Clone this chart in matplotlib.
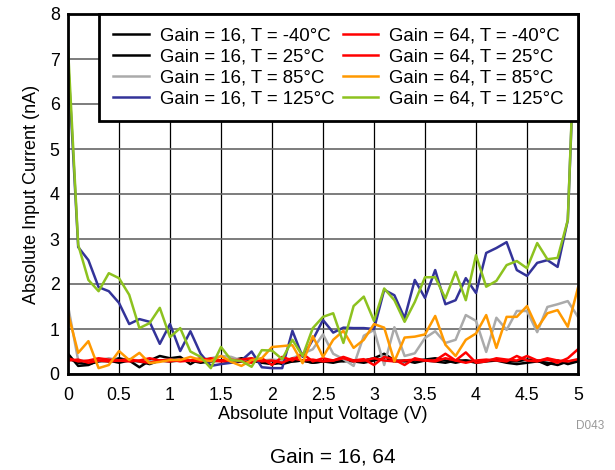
import matplotlib
matplotlib.use("Agg")
import matplotlib.pyplot as plt

plt.rcParams['font.family'] = ['Liberation Sans', 'DejaVu Sans']

voltage = [0.0, 0.1, 0.2, 0.3, 0.4, 0.5, 0.6, 0.7, 0.8, 0.9,
           1.0, 1.1, 1.2, 1.3, 1.4, 1.5, 1.6, 1.7, 1.8, 1.9,
           2.0, 2.1, 2.2, 2.3, 2.4, 2.5, 2.6, 2.7, 2.8, 2.9,
           3.0, 3.1, 3.2, 3.3, 3.4, 3.5, 3.6, 3.7, 3.8, 3.9,
           4.0, 4.1, 4.2, 4.3, 4.4, 4.5, 4.6, 4.7, 4.8, 4.9, 5.0]

g16_m40 = [0.45, 0.18, 0.2, 0.3, 0.28, 0.35, 0.3, 0.15, 0.3, 0.4,
           0.35, 0.38, 0.22, 0.35, 0.3, 0.3, 0.3, 0.35, 0.32, 0.3,
           0.3, 0.22, 0.28, 0.3, 0.25, 0.28, 0.3, 0.28, 0.3, 0.3,
           0.35, 0.45, 0.3, 0.28, 0.3, 0.32, 0.35, 0.3, 0.25, 0.3,
           0.28, 0.3, 0.32, 0.3, 0.28, 0.32, 0.3, 0.2, 0.3, 0.22, 0.28]
g16_25 = [0.35, 0.25, 0.22, 0.28, 0.3, 0.25, 0.3, 0.28, 0.22, 0.3,
          0.28, 0.3, 0.3, 0.25, 0.28, 0.3, 0.25, 0.28, 0.3, 0.25,
          0.22, 0.25, 0.28, 0.3, 0.25, 0.28, 0.25, 0.3, 0.28, 0.25,
          0.3, 0.35, 0.28, 0.3, 0.25, 0.3, 0.28, 0.25, 0.3, 0.3,
          0.25, 0.28, 0.3, 0.25, 0.22, 0.25, 0.28, 0.25, 0.2, 0.28, 0.3]
g16_85 = [1.52, 0.3, 0.28, 0.3, 0.35, 0.3, 0.32, 0.3, 0.28, 0.3,
          0.32, 0.3, 0.3, 0.33, 0.35, 0.4, 0.38, 0.3, 0.35, 0.3,
          0.32, 0.3, 0.35, 0.45, 0.55, 0.88, 0.45, 0.33, 0.18, 0.85,
          0.98, 0.2, 1.04, 0.4, 0.46, 0.8, 0.95, 0.69, 0.76, 1.31,
          1.18, 0.49, 1.25, 0.98, 1.4, 1.4, 0.93, 1.49, 1.55, 1.62, 1.27]
g16_125 = [7.0, 2.82, 2.53, 1.93, 1.84, 1.58, 1.11, 1.22, 1.16, 0.67,
           1.11, 0.51, 0.95, 0.45, 0.18, 0.22, 0.25, 0.3, 0.5, 0.15,
           0.13, 0.13, 0.96, 0.38, 0.76, 1.2, 0.92, 1.03, 1.02, 1.02,
           1.0, 1.87, 1.75, 1.24, 2.09, 1.69, 2.31, 1.55, 1.64, 2.13,
           1.8, 2.69, 2.8, 2.93, 2.31, 2.18, 2.47, 2.53, 2.38, 3.42, 9.3]
g64_m40 = [0.35, 0.28, 0.3, 0.35, 0.32, 0.3, 0.28, 0.3, 0.35, 0.3,
           0.28, 0.32, 0.3, 0.28, 0.35, 0.3, 0.32, 0.28, 0.25, 0.35,
           0.2, 0.38, 0.3, 0.45, 0.28, 0.35, 0.3, 0.38, 0.3, 0.33,
           0.2, 0.38, 0.32, 0.2, 0.35, 0.3, 0.3, 0.45, 0.3, 0.48,
           0.25, 0.28, 0.35, 0.32, 0.3, 0.4, 0.3, 0.32, 0.25, 0.35, 0.55]
g64_25 = [0.3, 0.32, 0.25, 0.3, 0.28, 0.3, 0.33, 0.28, 0.25, 0.3,
          0.32, 0.28, 0.3, 0.35, 0.3, 0.28, 0.3, 0.32, 0.35, 0.28,
          0.3, 0.25, 0.35, 0.3, 0.32, 0.28, 0.3, 0.35, 0.28, 0.3,
          0.35, 0.3, 0.28, 0.3, 0.32, 0.3, 0.28, 0.35, 0.3, 0.25,
          0.3, 0.32, 0.3, 0.28, 0.4, 0.3, 0.28, 0.35, 0.3, 0.28, 0.33]
g64_85 = [1.35, 0.47, 0.73, 0.13, 0.2, 0.51, 0.31, 0.47, 0.24, 0.27,
          0.31, 0.31, 0.38, 0.31, 0.29, 0.4, 0.27, 0.18, 0.31, 0.35,
          0.6, 0.62, 0.64, 0.24, 0.84, 0.38, 0.76, 0.96, 0.58, 0.76,
          1.11, 1.03, 0.28, 0.81, 0.83, 0.88, 1.29, 0.65, 0.4, 0.76,
          0.9, 1.31, 0.58, 1.27, 1.27, 1.51, 1.02, 1.35, 1.42, 1.05, 1.92]
g64_125 = [7.25, 2.87, 2.09, 1.84, 2.24, 2.13, 1.76, 1.02, 1.13, 1.47,
           0.82, 1.02, 0.5, 0.38, 0.13, 0.6, 0.31, 0.29, 0.16, 0.53,
           0.52, 0.33, 0.76, 0.4, 1.02, 1.27, 1.35, 0.69, 1.51, 1.72,
           1.18, 1.9, 1.64, 1.16, 1.6, 2.15, 2.15, 1.68, 2.27, 1.64,
           2.64, 1.94, 2.07, 2.42, 2.51, 2.35, 2.91, 2.55, 2.58, 3.42, 9.5]

labels = ["Gain = 16, T = -40°C", "Gain = 16, T = 25°C", "Gain = 16, T = 85°C",
          "Gain = 16, T = 125°C", "Gain = 64, T = -40°C", "Gain = 64, T = 25°C",
          "Gain = 64, T = 85°C", "Gain = 64, T = 125°C"]
series = [g16_m40, g16_25, g16_85, g16_125, g64_m40, g64_25, g64_85, g64_125]
colors = ["#000000", "#000000", "#AAAAAA", "#333399",
          "#FF0000", "#FF0000", "#FF9900", "#8DC21F"]

xticks = [0, 0.5, 1, 1.5, 2, 2.5, 3, 3.5, 4, 4.5, 5]
xticklabels = ["0", "0.5", "1", "1.5", "2", "2.5", "3", "3.5", "4", "4.5", "5"]
yticks = [0, 1, 2, 3, 4, 5, 6, 7, 8]

fig = plt.figure(figsize=(6.15, 4.7), dpi=100)
ax = fig.add_axes([68/615, 1-374/470, 510/615, 360/470])

for ys, lab, c in zip(series, labels, colors):
    ax.plot(voltage, ys, color=c, lw=1.8, label=lab)

ax.set_xlim(0, 5)
ax.set_ylim(0, 8)
ax.set_xticks(xticks)
ax.set_xticklabels(xticklabels)
ax.set_yticks(yticks)
ax.tick_params(axis='x', length=0, labelsize=12.8, pad=9)
ax.tick_params(axis='y', length=0, labelsize=12.8, pad=6)
ax.xaxis.grid(True, color='black', lw=0.9)
ax.yaxis.grid(True, color='#666666', lw=1.2)
ax.set_axisbelow(True)
for s in ax.spines.values():
    s.set_linewidth(2.0)
    s.set_color('black')

ax.set_xlabel("Absolute Input Voltage (V)", fontsize=13, labelpad=1.5)
ax.set_ylabel("Absolute Input Current (nA)", fontsize=13, labelpad=7)

leg = ax.legend(ncol=2, loc='upper right', bbox_to_anchor=(1.0, 1.0),
                borderaxespad=0, fontsize=13.4, fancybox=False, framealpha=1,
                edgecolor='black', handlelength=1.9, handletextpad=0.6,
                columnspacing=0.45, labelspacing=0.2, borderpad=0.75)
leg.get_frame().set_linewidth(2.0)

fig.text(590/615, 1-426/470, "D043", color='#999999', fontsize=8.5,
         ha='center', va='center')
fig.text(333/615, 1-457/470, "Gain = 16, 64", fontsize=15, ha='center',
         va='center')

fig.savefig("out.png", dpi=100)
